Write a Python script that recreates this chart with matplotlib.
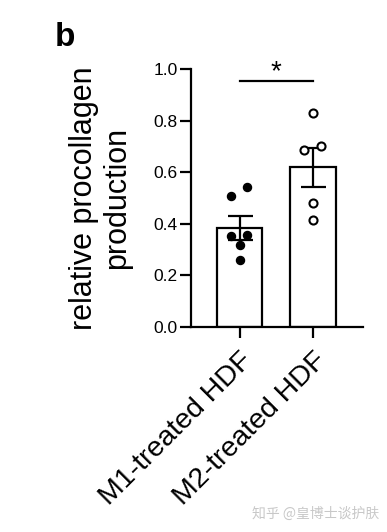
import matplotlib.pyplot as plt
import numpy as np

# values
groups = ["M1-treated HDF", "M2-treated HDF"]
bar_means = [0.383, 0.620]
bar_sem = [0.046, 0.076]

m1_points = [0.509, 0.541, 0.352, 0.356, 0.317, 0.258]
m1_jitter = [-0.11, 0.105, -0.11, 0.105, 0.0, 0.0]
m2_points = [0.832, 0.687, 0.703, 0.479, 0.415]
m2_jitter = [0.0, -0.12, 0.105, 0.0, 0.0]

yticks = [0.0, 0.2, 0.4, 0.6, 0.8, 1.0]
sig_y = 0.953

plt.rcParams["font.family"] = ["Liberation Sans", "DejaVu Sans"]

fig = plt.figure(figsize=(3.87, 5.32), dpi=100)
ax = fig.add_axes([0.4935, 0.386, 0.4445, 0.4838])

x = np.arange(len(groups))
ax.bar(x, bar_means, width=0.62, color="white", edgecolor="black",
       linewidth=1.6, zorder=1)
ax.errorbar(x, bar_means, yerr=bar_sem, fmt="none", ecolor="black",
            elinewidth=1.6, capsize=9, capthick=1.6, zorder=2)

ax.plot(x[0] + np.array(m1_jitter), m1_points, "o", color="black",
        ms=5.8, zorder=3)
ax.plot(x[1] + np.array(m2_jitter), m2_points, "o", mfc="white",
        mec="black", mew=1.5, ms=5.8, zorder=3)

# significance bar
ax.plot([x[0], x[1]], [sig_y, sig_y], color="black", lw=1.6, clip_on=False)
ax.text((x[0] + x[1]) / 2, 0.99, "*", ha="center", va="center",
        fontsize=20, clip_on=False)

ax.set_xlim(-0.66, 1.68)
ax.set_ylim(0, 1.0)
ax.set_yticks(yticks)
ax.set_yticklabels([f"{v:.1f}" for v in yticks], fontsize=12.5)
ax.set_xticks(x)
ax.set_xticklabels(groups, fontsize=20.5, rotation=45, ha="right",
                   va="top", rotation_mode="anchor")

for side in ["top", "right"]:
    ax.spines[side].set_visible(False)
for side in ["left", "bottom"]:
    ax.spines[side].set_linewidth(1.6)
ax.tick_params(axis="both", width=1.6, length=8, color="black")
ax.tick_params(axis="y", pad=1.5)
ax.tick_params(axis="x", pad=7)

ax.set_ylabel("relative procollagen\nproduction", fontsize=22,
              linespacing=1.12)
ax.yaxis.set_label_coords(-0.345, 0.5)

fig.text(0.142, 0.93, "b", fontsize=24, fontweight="bold", ha="left",
         va="center")

fig.text(0.815, 0.035, "知乎 @皇博士谈护肤", fontsize=10, color="#c8c8c8",
         ha="center", va="center",
         family=["Noto Sans CJK SC", "DejaVu Sans"])

fig.savefig("out.png", dpi=100)
